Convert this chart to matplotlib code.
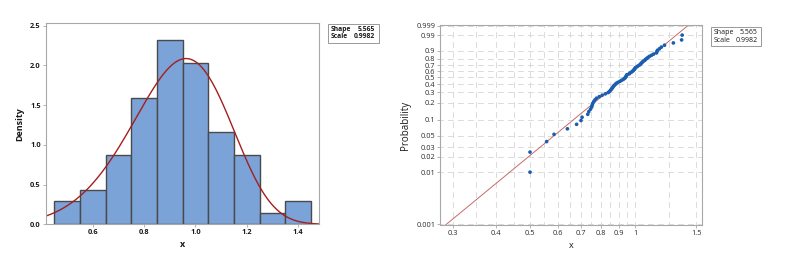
import numpy as np
import matplotlib
matplotlib.use("Agg")
import matplotlib.pyplot as plt
from matplotlib.patches import Rectangle

# ---------------- data ----------------
x_data = [0.500, 0.500, 0.558, 0.586, 0.640,
          0.680, 0.700, 0.705, 0.732, 0.737, 0.745,
          0.751, 0.754, 0.757, 0.762, 0.768, 0.776, 0.790, 0.805, 0.822, 0.838, 0.846,
          0.852, 0.857, 0.862, 0.866, 0.872, 0.878, 0.884, 0.893, 0.905, 0.915, 0.925,
          0.933, 0.938, 0.942, 0.945, 0.948,
          0.963, 0.967, 0.977, 0.984, 0.990, 0.995, 0.999, 1.003, 1.012, 1.020, 1.030,
          1.037, 1.042, 1.049,
          1.055, 1.065, 1.072, 1.080, 1.090, 1.100, 1.115, 1.130,
          1.152, 1.155, 1.160, 1.175, 1.190, 1.215,
          1.288,
          1.360, 1.365]
bin_edges = [0.45, 0.55, 0.65, 0.75, 0.85, 0.95, 1.05, 1.15, 1.25, 1.35, 1.45]
shape = 5.565
scale = 0.9982

hist_yticks = [0.0, 0.5, 1.0, 1.5, 2.0, 2.5]
hist_xticks = [0.6, 0.8, 1.0, 1.2, 1.4]
prob_yticks = [0.001, 0.01, 0.02, 0.03, 0.05, 0.1, 0.2, 0.3, 0.4, 0.5, 0.6,
               0.7, 0.8, 0.9, 0.99, 0.999]
prob_ytick_labels = ["0.001", "0.01", "0.02", "0.03", "0.05", "0.1", "0.2", "0.3",
                     "0.4", "0.5", "0.6", "0.7", "0.8", "0.9", "0.99", "0.999"]
prob_xticks = [0.3, 0.4, 0.5, 0.6, 0.7, 0.8, 0.9, 1.0, 1.5]
prob_xtick_labels = ["0.3", "0.4", "0.5", "0.6", "0.7", "0.8", "0.9", "1", "1.5"]
prob_xgrid = [0.3, 0.35, 0.4, 0.45, 0.5, 0.55, 0.6, 0.65, 0.7, 0.75, 0.8, 0.85,
              0.9, 0.95, 1.0, 1.25, 1.5]

plt.rcParams['font.family'] = ['Open Sans', 'DejaVu Sans']

W, H = 785, 270
fig = plt.figure(figsize=(W / 100, H / 100), dpi=100)
fig.patch.set_facecolor("white")

def fx(px):
    return px / W

def fy(py):
    return 1 - py / H

spine_col = "#a8a8a8"
txt_col = "#1a1a1a"

# ---------------- left: histogram ----------------
ax1 = fig.add_axes([fx(45.7), fy(224.3), fx(319.3) - fx(45.7), fy(23.3) - fy(224.3)])
ax1.hist(x_data, bins=bin_edges, density=True, color="#7BA3D8",
         edgecolor="#4a4a4a", linewidth=1.0)
xs = np.linspace(0.40, 1.50, 400)
pdf = (shape / scale) * (xs / scale) ** (shape - 1) * np.exp(-(xs / scale) ** shape)
ax1.plot(xs, pdf, color="#A31F1F", lw=1.0)
ax1.set_xlim(0.417, 1.482)
ax1.set_ylim(0, 2.53)
ax1.set_xticks(hist_xticks)
ax1.set_xticklabels([f"{v:.1f}" for v in hist_xticks])
ax1.set_yticks(hist_yticks)
ax1.set_yticklabels([f"{v:.1f}" for v in hist_yticks])
for s in ax1.spines.values():
    s.set_color(spine_col)
    s.set_linewidth(0.8)
ax1.tick_params(length=2, width=0.6, color=spine_col, labelsize=5.3, pad=1.5,
                labelcolor=txt_col)
for lab in ax1.get_xticklabels() + ax1.get_yticklabels():
    lab.set_fontweight("bold")
ax1.set_xlabel("x", fontsize=6.5, fontweight="bold", labelpad=3, color=txt_col)
ax1.set_ylabel("Density", fontsize=6.5, fontweight="bold", labelpad=4, color=txt_col)

# left parameter box
fig.patches.append(Rectangle((fx(328), fy(42.7)), fx(379) - fx(328), fy(24) - fy(42.7),
                             transform=fig.transFigure, fill=False,
                             edgecolor="#999999", lw=0.7))
fig.text(fx(331), fy(29.3), "Shape", fontsize=4.9, fontweight="bold", va="center", color=txt_col)
fig.text(fx(375.5), fy(29.3), f"{shape:.3f}", fontsize=4.9, fontweight="bold", va="center",
         ha="right", color=txt_col)
fig.text(fx(331), fy(36.7), "Scale", fontsize=4.9, fontweight="bold", va="center", color=txt_col)
fig.text(fx(375.5), fy(36.7), f"{scale:.4f}", fontsize=4.9, fontweight="bold", va="center",
         ha="right", color=txt_col)

# ---------------- right: Weibull probability plot ----------------
def fwd(p):
    p = np.clip(np.asarray(p, dtype=float), 1e-12, 1 - 1e-12)
    return np.log(-np.log(1 - p))

def inv(z):
    z = np.clip(np.asarray(z, dtype=float), -50, 5)
    return 1 - np.exp(-np.exp(z))

ax2 = fig.add_axes([fx(440), fy(225), fx(701.7) - fx(440), fy(25) - fy(225)])
ax2.set_xscale("log")
ax2.set_yscale("function", functions=(fwd, inv))

xs_sorted = np.sort(np.array(x_data))
n = len(xs_sorted)
ranks = np.arange(1, n + 1)
p_med = (ranks - 0.3) / (n + 0.4)

# grid
for gx in prob_xgrid:
    ax2.axvline(gx, color="#d6d6d6", lw=0.6, ls=(3, (7, 5)), zorder=0)
for gy in prob_yticks:
    ax2.axhline(gy, color="#d6d6d6", lw=0.6, ls=(3, (7, 5)), zorder=0)

xl = np.geomspace(0.25, 1.7, 200)
pl = 1 - np.exp(-(xl / scale) ** shape)
ax2.plot(xl, pl, color="#C96A6A", lw=0.7, zorder=2)
ax2.scatter(xs_sorted, p_med, s=7, color="#1B5DAE", edgecolors="none", zorder=3)

ax2.set_xlim(0.276, 1.553)
ax2.set_ylim(0.000957, 0.99927)
ax2.set_xticks(prob_xticks)
ax2.set_xticklabels(prob_xtick_labels)
ax2.xaxis.set_minor_locator(matplotlib.ticker.NullLocator())
ax2.set_yticks(prob_yticks)
ax2.set_yticklabels(prob_ytick_labels)
ax2.yaxis.set_minor_locator(matplotlib.ticker.NullLocator())
for s in ax2.spines.values():
    s.set_color(spine_col)
    s.set_linewidth(0.8)
ax2.tick_params(length=2, width=0.6, color=spine_col, labelsize=5.3, pad=1.5,
                labelcolor="#2a2a2a")
ax2.set_xlabel("x", fontsize=6.5, labelpad=3, color=txt_col)
ax2.set_ylabel("Probability", fontsize=7, labelpad=4, color=txt_col)

# right parameter box
fig.patches.append(Rectangle((fx(710.7), fy(46)), fx(760.7) - fx(710.7), fy(27) - fy(46),
                             transform=fig.transFigure, fill=False,
                             edgecolor="#999999", lw=0.7))
fig.text(fx(714), fy(32.7), "Shape", fontsize=5, va="center", color=txt_col)
fig.text(fx(757.5), fy(32.7), f"{shape:.3f}", fontsize=5, va="center", ha="right", color=txt_col)
fig.text(fx(714), fy(40.7), "Scale", fontsize=5, va="center", color=txt_col)
fig.text(fx(757.5), fy(40.7), f"{scale:.4f}", fontsize=5, va="center", ha="right", color=txt_col)

fig.savefig("out.png", dpi=100, facecolor="white")
